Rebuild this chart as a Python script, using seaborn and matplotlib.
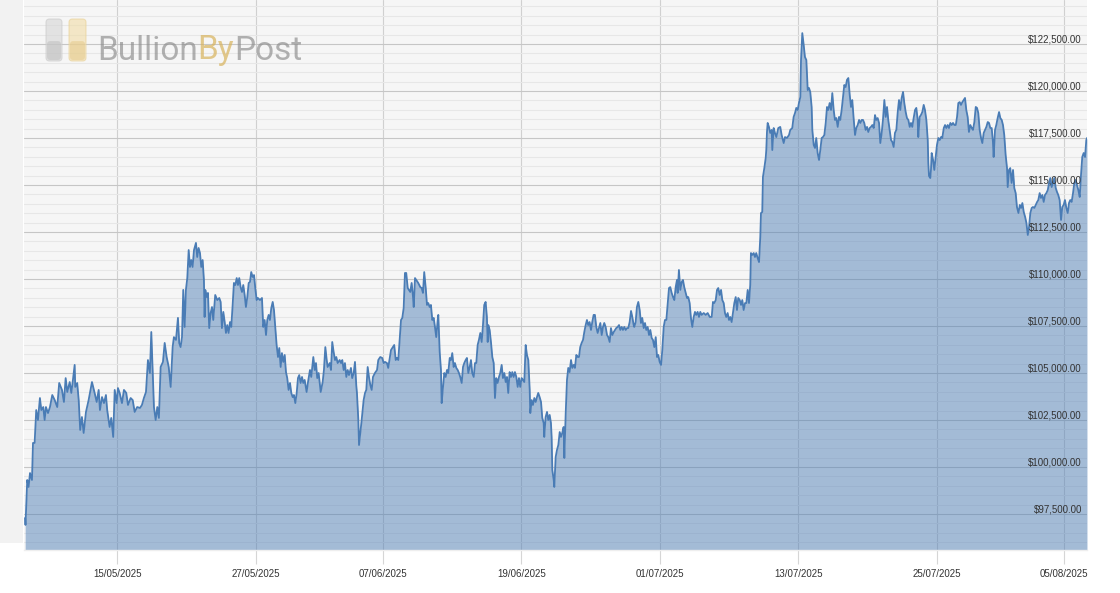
import matplotlib
matplotlib.use("Agg")
import matplotlib.pyplot as plt
import matplotlib.dates as mdates
import matplotlib.font_manager as fm
from matplotlib.ticker import FixedLocator, MultipleLocator
from matplotlib.patches import FancyBboxPatch, Rectangle
import numpy as np
import pandas as pd
import seaborn as sns

# ---------------- data ----------------
start_date = "2025-05-07 00:00"

days = [
    0.00, 0.03, 0.18, 0.30, 0.42, 0.59, 0.68, 0.82, 0.96, 1.11, 1.28, 1.40, 1.57, 1.69, 1.80, 1.98,
    2.15, 2.35, 2.56, 2.78, 2.95, 3.19, 3.36, 3.51, 3.65, 3.86, 4.00, 4.14, 4.29, 4.34, 4.51, 4.64,
    4.77, 4.92, 5.07, 5.27, 5.50, 5.79, 6.02, 6.20, 6.37, 6.48, 6.66, 6.83, 7.00, 7.11, 7.32, 7.46,
    7.63, 7.76, 7.93, 8.04, 8.19, 8.39, 8.56, 8.76, 8.91, 9.14, 9.32, 9.49, 9.71, 9.95, 10.12, 10.29,
    10.47, 10.64, 10.81, 10.93, 11.05, 11.16, 11.31, 11.45, 11.59, 11.74, 11.94, 12.09, 12.26, 12.44, 12.61,
    12.78, 12.89, 13.07, 13.24, 13.35, 13.47, 13.59, 13.70, 13.82, 13.93, 14.05, 14.17, 14.28, 14.39,
    14.51, 14.63, 14.80, 14.91, 15.03, 15.15, 15.26, 15.38, 15.49, 15.55, 15.61, 15.73, 15.84, 15.95,
    16.07, 16.19, 16.30, 16.47, 16.65, 16.82, 16.94, 17.05, 17.17, 17.29, 17.40, 17.51, 17.63, 17.75,
    17.86, 17.98, 18.09, 18.21, 18.33, 18.44, 18.55, 18.67, 18.79, 18.90, 19.02, 19.13, 19.25, 19.37,
    19.48, 19.59, 19.71, 19.83, 19.94, 20.06, 20.17, 20.35, 20.52, 20.63, 20.75, 20.87, 20.98, 21.10,
    21.21, 21.33, 21.45, 21.56, 21.67, 21.79, 21.91, 22.02, 22.14, 22.25, 22.37, 22.49, 22.60, 22.71,
    22.83, 22.95, 23.06, 23.18, 23.29, 23.41, 23.53, 23.64, 23.75, 23.87, 23.99, 24.10, 24.22, 24.39,
    24.51, 24.68, 24.79, 24.97, 25.09, 25.20, 25.31, 25.43, 25.61, 25.78, 25.89, 26.01, 26.13,
    26.21, 26.39, 26.50, 26.61, 26.73, 26.85, 26.96, 27.08, 27.25, 27.37, 27.48, 27.60, 27.71, 27.83,
    27.95, 28.06, 28.23, 28.34, 28.47, 28.58, 28.69, 28.75, 28.87, 28.93, 29.04, 29.16, 29.33, 29.45,
    29.56, 29.68, 29.79, 29.91, 30.03, 30.14, 30.31, 30.49, 30.60, 30.77, 30.94, 31.07, 31.18, 31.35,
    31.46, 31.59, 31.70, 31.87, 31.98, 32.11, 32.22, 32.33, 32.45, 32.57, 32.68, 32.80, 32.91, 33.02,
    33.15, 33.26, 33.37, 33.49, 33.61, 33.67, 33.78, 33.89, 34.06, 34.24, 34.36, 34.47, 34.58, 34.71,
    34.82, 34.93, 35.05, 35.16, 35.28, 35.40, 35.51, 35.62, 35.75, 35.80, 35.92, 36.03, 36.09, 36.20,
    36.32, 36.44, 36.55, 36.66, 36.79, 36.90, 37.01, 37.13, 37.24, 37.36, 37.48, 37.59, 37.70, 37.83,
    37.94, 38.05, 38.17, 38.28, 38.40, 38.52, 38.63, 38.74, 38.87, 38.98, 39.09, 39.21, 39.32, 39.44,
    39.56, 39.67, 39.78, 39.90, 40.01, 40.08, 40.13, 40.25, 40.37, 40.48, 40.60, 40.71, 40.82, 40.94,
    41.06, 41.17, 41.29, 41.40, 41.52, 41.64, 41.75, 41.86, 41.98, 42.10, 42.21, 42.33, 42.44, 42.56,
    42.68, 42.79, 42.90, 43.02, 43.14, 43.25, 43.37, 43.48, 43.60, 43.72, 43.77, 43.89, 44.00, 44.12,
    44.24, 44.35, 44.46, 44.58, 44.70, 44.81, 44.93, 44.98, 45.10, 45.22, 45.33, 45.45, 45.56, 45.62,
    45.68, 45.80, 45.85, 45.97, 46.08, 46.20, 46.32, 46.43, 46.54, 46.66, 46.72, 46.84, 46.95, 47.06,
    47.18, 47.30, 47.41, 47.53, 47.64, 47.76, 47.88, 47.99, 48.10, 48.22, 48.34, 48.45, 48.57, 48.68,
    48.79, 48.91, 49.03, 49.14, 49.26, 49.37, 49.49, 49.61, 49.72, 49.84, 49.96, 50.07, 50.18, 50.30,
    50.42, 50.53, 50.65, 50.76, 50.88, 51.00, 51.11, 51.22, 51.34, 51.46, 51.57, 51.69, 51.80, 51.92,
    52.04, 52.15, 52.26, 52.38, 52.50, 52.61, 52.73, 52.78, 52.90, 53.01, 53.13, 53.25, 53.36, 53.47,
    53.60, 53.71, 53.82, 53.94, 54.06, 54.17, 54.29, 54.40, 54.52, 54.64, 54.75, 54.86, 54.98, 55.10,
    55.21, 55.33, 55.44, 55.56, 55.68, 55.79, 55.90, 56.02, 56.14, 56.25, 56.37, 56.48, 56.54, 56.65,
    56.77, 56.89, 57.00, 57.11, 57.24, 57.35, 57.46, 57.58, 57.69, 57.81, 57.93, 58.04, 58.15, 58.27,
    58.39, 58.50, 58.62, 58.80, 58.97, 59.14, 59.32, 59.49, 59.60, 59.71, 59.84, 59.95, 60.06, 60.18,
    60.30, 60.41, 60.53, 60.64, 60.75, 60.87, 60.99, 61.10, 61.22, 61.33, 61.45, 61.57, 61.68, 61.79,
    61.92, 62.03, 62.14, 62.26, 62.38, 62.49, 62.61, 62.72, 62.83, 62.89, 63.01, 63.13, 63.24, 63.35,
    63.47, 63.59, 63.70, 63.76, 63.87, 63.93, 64.05, 64.17, 64.22, 64.28, 64.34, 64.45, 64.56, 64.69,
    64.74, 64.86, 64.97, 65.09, 65.26, 65.43, 65.55, 65.73, 65.84, 66.01, 66.19, 66.30, 66.47, 66.59,
    66.71, 66.82, 66.94, 67.05, 67.17, 67.23, 67.34, 67.46, 67.57, 67.69, 67.81, 67.92, 68.03, 68.15,
    68.21, 68.33, 68.44, 68.55, 68.67, 68.79, 68.90, 69.02, 69.13, 69.25, 69.37, 69.48, 69.59, 69.71,
    69.83, 69.94, 70.06, 70.17, 70.29, 70.41, 70.52, 70.63, 70.75, 70.87, 70.98, 71.10, 71.21, 71.33,
    71.45, 71.56, 71.67, 71.80, 71.91, 72.02, 72.14, 72.26, 72.37, 72.49, 72.60, 72.71, 72.83, 72.95,
    73.06, 73.18, 73.29, 73.41, 73.53, 73.64, 73.75, 73.87, 73.99, 74.10, 74.22, 74.33, 74.45, 74.57,
    74.68, 74.79, 74.91, 75.03, 75.14, 75.26, 75.37, 75.49, 75.61, 75.72, 75.83, 75.95, 76.07, 76.18,
    76.30, 76.41, 76.53, 76.65, 76.76, 76.87, 76.99, 77.11, 77.22, 77.34, 77.39, 77.51, 77.62, 77.74,
    77.86, 77.97, 78.09, 78.21, 78.26, 78.32, 78.43, 78.49, 78.55, 78.67, 78.78, 78.90, 79.01, 79.13,
    79.25, 79.36, 79.47, 79.60, 79.71, 79.82, 79.94, 80.05, 80.17, 80.29, 80.40, 80.52, 80.64, 80.75,
    80.86, 80.98, 81.09, 81.21, 81.33, 81.44, 81.55, 81.67, 81.78, 81.90, 82.02, 82.13, 82.25, 82.37,
    82.48, 82.59, 82.71, 82.83, 82.94, 83.06, 83.17, 83.29, 83.41, 83.52, 83.63, 83.75, 83.86, 83.92,
    84.04, 84.15, 84.27, 84.39, 84.50, 84.62, 84.73, 84.84, 84.96, 85.08, 85.14, 85.25, 85.36, 85.48,
    85.60, 85.71, 85.83, 85.94, 86.07, 86.19, 86.30, 86.41, 86.53, 86.65, 86.76, 86.88, 86.99, 87.10,
    87.22, 87.33, 87.45, 87.57, 87.69, 87.79, 87.91, 88.02, 88.14, 88.26, 88.37, 88.49, 88.61, 88.72,
    88.83, 88.95, 89.06, 89.18, 89.30, 89.41, 89.52, 89.64, 89.76, 89.87, 89.99, 90.10, 90.22, 90.34,
    90.45, 90.56, 90.68, 90.80, 90.91, 91.03, 91.14, 91.26, 91.38, 91.49, 91.60, 91.72, 91.84, 91.95,
    92.01,
]

price = [
    97290, 96920, 99310, 98940, 99680, 99310, 101280, 101280, 103030, 102500, 103670, 103030, 103190, 102500, 103190, 102870,
    103190, 103830, 103560, 103190, 104470, 104100, 103460, 104730, 103990, 104520, 103940, 104630, 105430, 104260, 104470, 103560,
    101970, 102660, 101810, 102930, 103560, 104520, 103940, 103460, 104100, 103030, 103720, 103400, 103830, 103030, 102130, 102610,
    101600, 104100, 103400, 104200, 103940, 103400, 104100, 103940, 103300, 103670, 103560, 102930, 103190, 103140, 103300, 103670,
    103990, 105690, 105000, 107180, 105160, 103190, 102500, 103190, 102610, 105320, 105590, 106600, 105850, 105320, 104260,
    106380, 106910, 106760, 107930, 106600, 106380, 106910, 109420, 107450, 109420, 110050, 111540, 110640, 111010,
    110640, 111540, 111920, 111170, 111650, 111380, 110640, 111010, 109950, 107980, 109420, 109040, 109260, 107390,
    108190, 108510, 107820, 109150, 108880, 108990, 108780, 107390, 108250, 107710, 107130, 107550, 107130, 107710,
    107450, 108620, 109790, 109680, 110050, 109680, 110050, 109570, 109310, 109680, 109150, 108510, 109040, 109790,
    109840, 110370, 110110, 110210, 109520, 108880, 108990, 108880, 108990, 107450, 107820, 107020, 107820, 108090,
    107820, 108460, 108780, 108350, 107450, 106490, 105850, 106330, 105320, 106060, 105590, 105960, 105050, 104730,
    104100, 104470, 103940, 103720, 103830, 103400, 103940, 104730, 104890, 104470, 104790, 104470, 104630, 103990,
    104520, 105160, 104790, 105850, 105160, 105530, 104730, 105000, 103990, 104520, 105160, 106380, 105690,
    105320, 105530, 105160, 106650, 106120, 105690, 105850, 105530, 105690, 105530, 105690, 105160, 105530, 104790,
    105160, 104890, 105270, 104730, 105000, 105590, 104360, 103940, 102500, 101170, 101810, 102500, 103560, 103940,
    104100, 105320, 104790, 104360, 104100, 104790, 105000, 105160, 105690, 105850, 105800, 105530, 105590, 105530,
    105270, 105800, 106220, 106380, 106490, 105690, 105800, 105690, 106760, 107820, 107930, 108460, 110320, 110320,
    109520, 109420, 109310, 109790, 109040, 108510, 110050, 109950, 109790, 109570, 109520, 109260, 110370, 109520,
    108620, 108720, 108510, 108620, 107820, 107930, 107450, 106910, 107820, 108090, 106120, 105160, 103400, 104200,
    105000, 104790, 105160, 105000, 105800, 105690, 106060, 105320, 105530, 105270, 105160, 105000, 104790, 104470,
    105320, 105530, 105690, 105800, 105000, 105320, 105690, 105000, 104790, 105530, 105530, 106490, 106760, 107130,
    106650, 107550, 108620, 108780, 107980, 106650, 107550, 107290, 106600, 105850, 105530, 103670, 104730, 104470,
    104790, 105000, 105430, 104730, 105000, 104520, 104790, 103940, 105050, 104790, 105050, 104790, 105050, 104790,
    104260, 104730, 104260, 104730, 104630, 104520, 106490, 105960, 105690, 104100, 102870, 103560, 103300, 103670,
    103460, 103720, 103940, 103720, 103460, 102610, 102340, 101600, 102660, 102930, 102500, 102770, 102340, 101600,
    99840, 99310, 98940, 100530, 100900, 101170, 101860, 101600, 101810, 102130, 100480, 102870, 104630, 105270,
    105050, 105690, 105270, 105430, 105270, 105960, 105850, 105850, 106380, 106600, 106760, 107180, 107550, 107820,
    107550, 107710, 107290, 107710, 108090, 108090, 107450, 107130, 107390, 107660, 107020, 107450, 107660, 107450,
    107020, 106910, 106650, 107390, 107020, 107180, 107290, 107390, 107450, 107550, 107290, 107450, 107290, 107450,
    107290, 107390, 107390, 107710, 108300, 107980, 107550, 107450, 107710, 108510, 108780, 108350, 107660, 107930,
    107390, 107660, 107290, 107450, 107020, 107290, 106860, 106760, 106380, 106910, 105850, 105960, 105590, 105430,
    106220, 107450, 107820, 107820, 108720, 109520, 109570, 109260, 109040, 108880, 109570, 109950, 109260, 110480,
    109420, 109840, 109950, 109570, 109260, 108990, 109040, 108720, 107930, 107450, 107980, 108250, 108090, 108250,
    107980, 108250, 108090, 108190, 108090, 108190, 107980, 107980, 108780, 108720, 108880, 109420, 109520, 109150,
    109420, 108880, 108720, 108190, 107980, 108190, 107820, 107980, 107710, 108190, 108720, 109040, 108350, 108990,
    108880, 108620, 108880, 108350, 108720, 108720, 109420, 108720, 109680, 111380, 111280, 111380, 111170, 111380,
    111120, 110900, 112230, 113510, 113560, 115430, 115900, 116440, 116860, 117820, 118300, 118090, 117770, 117930,
    116860, 118030, 117770, 117550, 118030, 118090, 117660, 117230, 117550, 117500, 117660, 117930, 118030, 118620,
    118830, 119100, 118990, 119360, 119680, 121650, 123080, 122450, 121810, 121650, 120050, 120160, 119950, 119150,
    117930, 117130, 116970, 117500, 116700, 116330, 116860, 117500, 117550, 117660, 118300, 119150, 118990, 119360,
    118990, 119890, 118990, 118460, 118560, 118090, 118620, 118460, 118990, 119680, 120320, 120210, 120590, 120690,
    119790, 119150, 119520, 118460, 117660, 118030, 118190, 118460, 118300, 118460, 118460, 118300, 117930, 118090,
    117820, 118030, 118090, 118190, 118030, 118720, 118460, 118560, 118300, 117230, 117770, 118460, 119520, 118620,
    119150, 118460, 117930, 117390, 117290, 117020, 117770, 117930, 118880, 119520, 118990, 119630, 119950, 119360,
    118880, 118560, 118460, 118090, 118300, 118090, 118560, 118990, 119100, 118460, 117550, 118620, 118720, 118880,
    119260, 118990, 118460, 117390, 116170, 115480, 115370, 115800, 116700, 116330, 115800, 116490, 117130, 117500,
    117390, 117550, 117500, 118030, 118190, 118030, 118190, 118030, 118300, 118190, 118300, 118190, 118190, 118620,
    119360, 119410, 119260, 119410, 119520, 119630, 118990, 118620, 117820, 118190, 118030, 117930, 118350, 119150,
    119100, 118830, 117930, 117500, 117230, 117770, 117930, 118090, 118350, 118300, 118030, 118030, 117290, 116490,
    117930, 118190, 118560, 118880, 118560, 118460, 118190, 117660, 116600, 115900, 114890, 115800, 115900, 115110,
    115800, 114840, 114570, 113830, 113510, 113940, 113780, 114040, 113560, 113300, 112980, 112340, 112770, 113510,
    113780, 113830, 113780, 113940, 114100, 114200, 114570, 114310, 114470, 114100, 114470, 114570, 114730, 115110,
    115370, 114890, 115110, 115370, 114840, 114630, 114470, 114200, 113140, 113830, 113940, 114200, 113780, 113510,
    114040, 114200, 114100, 114570, 115110, 115270, 115000, 114730, 114360, 115530, 116490, 116700, 116490, 117390,
    117500,
]

y_ticks = [97500, 100000, 102500, 105000, 107500, 110000, 112500, 115000, 117500, 120000, 122500]
y_minor_step = 500
y_limits = (95586, 124840)
x_limits_days = (-0.1, 92.01)
x_tick_dates = ["2025-05-15", "2025-05-27", "2025-06-07", "2025-06-19",
                "2025-07-01", "2025-07-13", "2025-07-25", "2025-08-05"]

# ---------------- styling ----------------
W, H = 1120, 593
LINE_C = "#4a7cb5"
BG_C = "#f6f6f6"

sns.set_theme(style="white")
plt.rcParams["font.family"] = ["Liberation Sans", "DejaVu Sans"]

t0 = pd.Timestamp(start_date)
df = pd.DataFrame({"time": t0 + pd.to_timedelta(days, unit="D"), "price": price})

fig = plt.figure(figsize=(W / 100, H / 100), dpi=100)
fig.patch.set_facecolor("white")
# light strip on the far left
fig.add_artist(Rectangle((0, 50 / H), 23 / W, 543 / H, transform=fig.transFigure,
                         facecolor="#f2f2f2", edgecolor="none", zorder=-1))

ax = fig.add_axes([24 / W, 43 / H, 1063 / W, 550 / H])
ax.set_facecolor(BG_C)
ax.set_axisbelow(True)

ax.fill_between(df["time"], df["price"], y_limits[0] - 1000, color=LINE_C, alpha=0.48,
                linewidth=0, zorder=1)
sns.lineplot(data=df, x="time", y="price", ax=ax, color=LINE_C, linewidth=1.3,
             estimator=None, sort=False, zorder=2)

ax.set_xlim(t0 + pd.Timedelta(days=x_limits_days[0]), t0 + pd.Timedelta(days=x_limits_days[1]))
ax.set_ylim(*y_limits)
ax.set_xlabel("")
ax.set_ylabel("")

# grid
ax.yaxis.set_major_locator(FixedLocator(y_ticks))
ax.yaxis.set_minor_locator(MultipleLocator(y_minor_step))
ax.set_xticks(pd.to_datetime(x_tick_dates))
ax.xaxis.set_major_formatter(mdates.DateFormatter("%d/%m/%Y"))
ax.grid(which="major", axis="y", color="#c6c6c6", linewidth=0.8)
ax.grid(which="minor", axis="y", color="#e7e7e7", linewidth=0.8)
ax.grid(which="major", axis="x", color="#d0d0d0", linewidth=0.8)

ax.tick_params(axis="y", which="both", left=False, right=False, labelleft=False, labelright=False)
ax.tick_params(axis="x", which="major", bottom=True, length=10, width=0.8, color="#d6d6d6",
               pad=3.5, labelsize=7, labelcolor="#333333")
ax.tick_params(axis="x", which="minor", bottom=False)
for s in ["top", "right", "left"]:
    ax.spines[s].set_visible(False)
ax.spines["bottom"].set_color("#eeeeee")
ax.spines["bottom"].set_linewidth(1.0)

# y labels drawn inside the plot, right-aligned just above each grid line
for v in y_ticks:
    ax.annotate(f"${v:,.2f}", xy=(1, v), xycoords=ax.get_yaxis_transform(),
                xytext=(-3.6, 1.1), textcoords="offset points", ha="right", va="baseline",
                fontsize=7, color="#333333", zorder=5)

# ---------------- watermark logo ----------------
names = {f.name for f in fm.fontManager.ttflist}
if "Liberation Sans Narrow" in names:
    logo_family, logo_size, logo_weight = "Liberation Sans Narrow", 29, "normal"
else:
    logo_family, logo_size, logo_weight = "Roboto", 24, "normal"

inch = fig.dpi_scale_trans
def icon(x0, x1, top, bottom, c_top, c_bot, edge):
    h = (bottom - top)
    fig.add_artist(FancyBboxPatch((x0 / 100, (H - bottom) / 100), (x1 - x0) / 100, h / 100,
                                  boxstyle="round,pad=0,rounding_size=0.035", transform=inch,
                                  facecolor=c_top, edgecolor=edge, linewidth=0.8, alpha=0.6, zorder=3))
    fig.add_artist(FancyBboxPatch((x0 / 100 + 0.01, (H - bottom) / 100 + 0.01), (x1 - x0) / 100 - 0.02,
                                  h * 0.45 / 100, boxstyle="round,pad=0,rounding_size=0.03", transform=inch,
                                  facecolor=c_bot, edgecolor="none", alpha=0.5, zorder=3))

icon(46, 62, 19, 61, "#d6d6d6", "#bcbcbc", "#c8c8c8")
icon(69, 86, 19, 61, "#f1dca6", "#e4c786", "#e8d094")

t1 = fig.text(97 / W, (H - 59.5) / H, "Bullion", family=logo_family, fontsize=logo_size,
              fontweight=logo_weight, color="#8a8a8a", alpha=0.65, va="baseline", ha="left", zorder=4)
t2 = ax.annotate("By", xy=(1, 0), xycoords=t1, va="bottom", ha="left", family=logo_family,
                 fontsize=logo_size, fontweight=logo_weight, color="#d8b35c", alpha=0.7,
                 annotation_clip=False, zorder=6)
t3 = ax.annotate("Post", xy=(1, 0), xycoords=t2, va="bottom", ha="left", family=logo_family,
                 fontsize=logo_size, fontweight=logo_weight, color="#8a8a8a", alpha=0.65,
                 annotation_clip=False, zorder=6)

fig.savefig("out.png", dpi=100, facecolor=fig.get_facecolor())
